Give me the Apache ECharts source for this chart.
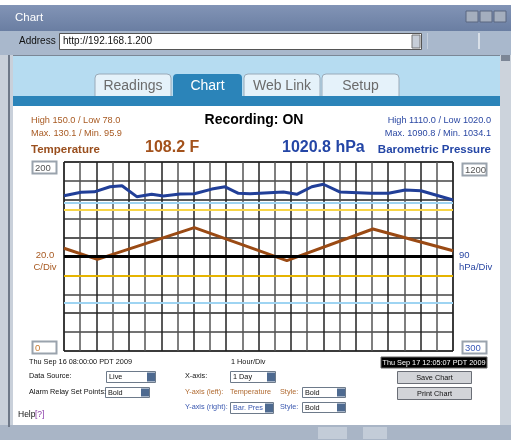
<!DOCTYPE html>
<html>
<head>
<meta charset="utf-8">
<script src="https://cdn.jsdelivr.net/npm/echarts@6/dist/echarts.min.js"></script>
<style>
html,body{margin:0;padding:0;background:#fff;}
#chart{width:511px;height:440px;}
</style>
</head>
<body>
<div id="chart"></div>
<script>
// ---- data ----
const hourTicks = 24;                 // 1 Day, 1 Hour/Div
const tempAxis = [0, 200, 20];        // min, max, interval (C/Div label 20.0)
const presAxis = [300, 1200, 90];     // min, max, interval (hPa/Div)
const tempHours  = [0, 2.06, 8.04, 13.75, 19.06, 24];
const tempValues = [108.7, 97.0, 130.5, 95.6, 129.1, 106.1];
const presHours  = [0, 1.05, 1.87, 2.84, 3.58, 4.49, 5.41, 6.13, 7.16, 8.04, 9.12, 9.94, 10.76, 11.48, 13.54, 14.36, 15.29, 16.0, 17.04, 18.89, 20.02, 21.05, 22.02, 24];
const presValues = [1039, 1056, 1058, 1082, 1087, 1035, 1046, 1038, 1048, 1049, 1071, 1082, 1051, 1049, 1057, 1046, 1082, 1094, 1057, 1051, 1051, 1067, 1063, 1019];
const centerLine = [100];
const yellowLines = [150, 80];
const blueLines = [157, 51];
const tabs = ['Readings', 'Chart', 'Web Link', 'Setup'];

const F = 'Liberation Sans, Arial, sans-serif';
const BROWN = '#a85a22', BLUE = '#2b48a3';
const SM = '7.3px ' + F;

function txt(x, y, t, fill, font, align, extra) {
  return Object.assign({type: 'text', z: 50, style: {x: x, y: y, text: t, fill: fill, font: font, textAlign: align || 'left', textVerticalAlign: 'middle'}}, extra || {});
}
function rect(x, y, w, h, fill, stroke, z, lw) {
  return {type: 'rect', z: z == null ? -10 : z, shape: {x: x, y: y, width: w, height: h}, style: {fill: fill, stroke: stroke || null, lineWidth: lw || 1}};
}
function select(x, y, w, h, label, color) {
  return [
    rect(x + 0.5, y + 0.5, w, h, '#fff', '#6d7a8a', 40),
    rect(x + w - 8, y + 1.5, 8, h - 2, '#4e6a90', null, 41),
    txt(x + 3, y + h / 2 + 0.5, label, color || '#111', SM, 'left')
  ];
}
function box(x, y, w, h, label, color) {
  return [
    rect(x + 0.5, y + 0.5, w, h, '#fff', '#9aa3ad', 40, 2),
    txt(x + 3, y + h / 2 + 1, label, color, '9.5px ' + F, 'left')
  ];
}

const tabX = [95, 173, 244, 322], tabW = [76, 69, 76, 77];
let graphics = [];
// window frame
graphics.push(rect(0, 0, 511, 440, '#ffffff', null, -20));
graphics.push({type: 'rect', z: -10, shape: {x: 0, y: 5, width: 511, height: 26}, style: {fill: new echarts.graphic.LinearGradient(0, 0, 0, 1, [{offset: 0, color: '#8294b6'}, {offset: 1, color: '#6a7ea2'}])}});
graphics.push(txt(15, 18, 'Chart', '#fff', '11.5px ' + F));
graphics.push(rect(466, 11, 12, 11, '#a4aebe', '#5a6680', -5));
graphics.push(rect(480, 11, 12, 11, '#a4aebe', '#5a6680', -5));
graphics.push(rect(494, 11, 12, 11, '#a4aebe', '#5a6680', -5));
graphics.push(rect(0, 31, 511, 24, '#a9b8cc', null, -10));
graphics.push(txt(19, 41.5, 'Address', '#111', '10px ' + F));
graphics.push(rect(59.5, 33.5, 362, 16, '#fff', '#555', -5));
graphics.push(txt(63, 41.5, 'http://192.168.1.200', '#111', '10px ' + F));
graphics.push(rect(412, 35, 8, 13, '#c7ced8', '#777', -4));
graphics.push(rect(427, 33, 1, 16, '#c5cfdc', null, -5));
graphics.push(rect(478, 33, 2, 16, '#d8dfe8', null, -5));
graphics.push(rect(0, 55, 13, 372, '#c9d0da', null, -10));
graphics.push(rect(8, 55, 2, 372, '#6e7888', null, -9));
graphics.push(rect(500, 55, 11, 372, '#ccd3dc', null, -10));
graphics.push(rect(501, 55, 9, 6, '#7c8696', null, -9));
graphics.push(rect(13, 55, 487, 42, '#b6dcf1', null, -10));
graphics.push(rect(13, 55, 487, 1, '#7b8796', null, -9));
tabs.forEach(function (t, i) {
  const active = i === 1;
  graphics.push({type: 'rect', z: -8, shape: {x: tabX[i], y: 74, width: tabW[i], height: 23, r: [4, 4, 0, 0]}, style: {fill: active ? '#2b84b9' : '#e5f2fa', stroke: active ? null : '#9aaab8', lineWidth: 1}});
  graphics.push(txt(tabX[i] + tabW[i] / 2, 86, t, active ? '#fff' : '#6b6b6b', '14px ' + F, 'center'));
});
graphics.push(rect(13, 96, 487, 10, '#2b84b9', null, -7));
graphics.push(rect(0, 425, 511, 15, '#a9b5c6', null, -10));
graphics.push(rect(318, 427, 29, 12, '#c3ccd8', null, -9));
graphics.push(rect(363, 427, 24, 12, '#c3ccd8', null, -9));

// header texts
graphics.push(txt(31, 120, 'High ' + yellowLines[0].toFixed(1) + ' / Low 78.0', BROWN, '9.2px ' + F));
graphics.push(txt(31, 133, 'Max. 130.1 / Min. 95.9', BROWN, '9.2px ' + F));
graphics.push(txt(31, 150, 'Temperature', '#9a4f1e', 'bold 11.5px ' + F));
graphics.push(txt(145, 148, '108.2 F', '#a3521c', 'bold 16px ' + F));
graphics.push(txt(254, 120, 'Recording: ON', '#000', 'bold 14px ' + F, 'center'));
graphics.push(txt(491, 120, 'High 1110.0 / Low 1020.0', BLUE, '9.2px ' + F, 'right'));
graphics.push(txt(491, 133, 'Max. 1090.8 / Min. 1034.1', BLUE, '9.2px ' + F, 'right'));
graphics.push(txt(282, 148, '1020.8 hPa', '#2446a6', 'bold 16px ' + F));
graphics.push(txt(491, 150, 'Barometric Pressure', '#2446a6', 'bold 11.5px ' + F, 'right'));

// axis boxes
graphics = graphics.concat(box(32, 161, 24, 12, String(tempAxis[1]), '#555'));
graphics = graphics.concat(box(462, 163, 24, 12, String(presAxis[1]), '#555'));
graphics = graphics.concat(box(32, 341, 24, 12, String(tempAxis[0]), '#c87a30'));
graphics = graphics.concat(box(462, 341, 24, 12, String(presAxis[0]), '#3a5ab8'));
graphics.push(txt(45, 255, tempAxis[2].toFixed(1), BROWN, '9.5px ' + F, 'center'));
graphics.push(txt(45, 267, 'C/Div', BROWN, '9.5px ' + F, 'center'));
graphics.push(txt(459, 255, String(presAxis[2]), BLUE, '9.5px ' + F, 'left'));
graphics.push(txt(459, 267, 'hPa/Div', BLUE, '9.5px ' + F, 'left'));

// bottom controls
graphics.push(txt(29, 362, 'Thu Sep 16 08:00:00 PDT 2009', '#111', SM));
graphics.push(txt(231, 361.5, '1 Hour/Div', '#111', SM));
graphics.push(rect(381, 357, 106, 11, '#000', '#666', 40));
graphics.push(txt(434, 362.5, 'Thu Sep 17 12:05:07 PDT 2009', '#fff', SM, 'center'));
graphics.push(txt(29, 376, 'Data Source:', '#111', SM));
graphics.push(txt(29, 392, 'Alarm Relay Set Points:', '#111', SM));
graphics = graphics.concat(select(106, 371, 49, 11, 'Live'));
graphics = graphics.concat(select(105, 387, 44, 10, 'Bold'));
graphics.push(txt(185, 376, 'X-axis:', '#111', SM));
graphics = graphics.concat(select(230, 371, 45, 11, '1 Day'));
graphics.push(txt(185, 392, 'Y-axis (left):', '#b06a30', SM));
graphics.push(txt(230, 392, 'Temperature', '#b06a30', SM));
graphics.push(txt(280, 392, 'Style:', '#b06a30', SM));
graphics = graphics.concat(select(302, 387, 43, 10, 'Bold'));
graphics.push(txt(185, 407, 'Y-axis (right):', '#3a58b0', SM));
graphics = graphics.concat(select(230, 402, 43, 11, 'Bar. Pres', '#3a58b0'));
graphics.push(txt(280, 407, 'Style:', '#3a58b0', SM));
graphics = graphics.concat(select(302, 402, 43, 10, 'Bold'));
graphics.push(rect(397.5, 371.5, 74, 12, '#d2d4d8', '#6a6e76', 40));
graphics.push(txt(434.5, 378, 'Save Chart', '#111', SM, 'center'));
graphics.push(rect(397.5, 387.5, 74, 12, '#d2d4d8', '#6a6e76', 40));
graphics.push(txt(434.5, 394, 'Print Chart', '#111', SM, 'center'));
graphics.push(txt(18, 415, 'Help', '#111', '8.5px ' + F));
graphics.push(txt(35, 415, '[?]', '#8a3aa8', '8.5px ' + F));

function pairs(xs, ys) { return xs.map(function (x, i) { return [x, ys[i]]; }); }
function hline(v, color, w) { return {yAxis: v, lineStyle: {color: color, width: w, type: 'solid'}}; }

const chart = echarts.init(document.getElementById('chart'));
chart.setOption({
  animation: false,
  backgroundColor: 'transparent',
  graphic: {elements: graphics},
  grid: {left: 64, top: 162, width: 389, height: 189, show: true, borderColor: '#111', borderWidth: 1, backgroundColor: '#fff', z: 0},
  xAxis: {type: 'value', min: 0, max: hourTicks, interval: 1,
    axisLine: {show: false}, axisTick: {show: false}, axisLabel: {show: false},
    splitLine: {show: true, lineStyle: {color: ['#222', '#555'], width: 1.5}}},
  yAxis: [
    {type: 'value', min: tempAxis[0], max: tempAxis[1], interval: tempAxis[2],
      axisLine: {show: false}, axisTick: {show: false}, axisLabel: {show: false},
      splitLine: {show: true, lineStyle: {color: ['#222', '#444'], width: 1.5}}},
    {type: 'value', min: presAxis[0], max: presAxis[1], interval: presAxis[2],
      axisLine: {show: false}, axisTick: {show: false}, axisLabel: {show: false}, splitLine: {show: false}}
  ],
  series: [
    {type: 'line', data: [], yAxisIndex: 0, z: 1, silent: true,
      markLine: {symbol: 'none', silent: true, label: {show: false}, animation: false,
        data: [hline(centerLine[0], '#000', 3),
               hline(yellowLines[0], '#f7d548', 2), hline(yellowLines[1], '#e6b400', 2),
               hline(blueLines[0], '#9ed4f2', 2), hline(blueLines[1], '#9ed4f2', 2)]}},
    {name: 'Temperature', type: 'line', yAxisIndex: 0, z: 3, data: pairs(tempHours, tempValues),
      showSymbol: false, lineStyle: {color: '#9a4a14', width: 3}},
    {name: 'Barometric Pressure', type: 'line', yAxisIndex: 1, z: 3, data: pairs(presHours, presValues),
      showSymbol: false, lineStyle: {color: '#213f98', width: 3}}
  ]
});
</script>
</body>
</html>
